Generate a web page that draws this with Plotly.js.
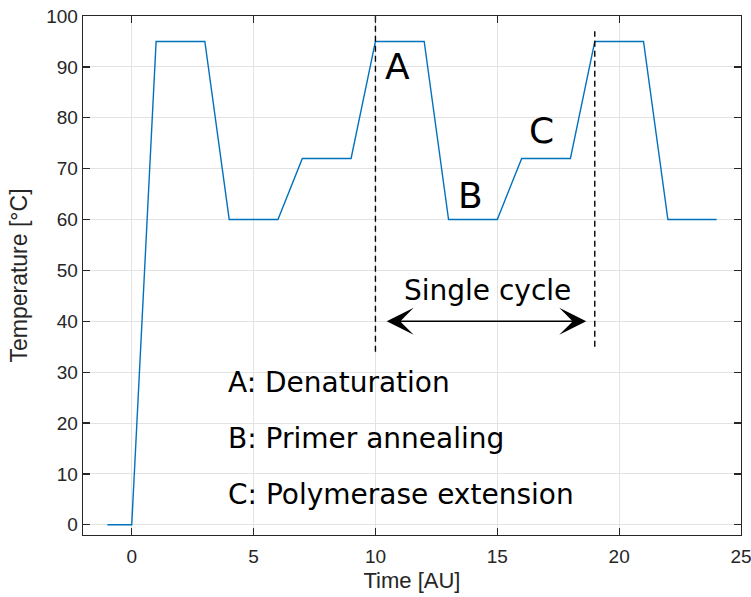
<!DOCTYPE html>
<html>
<head>
<meta charset="utf-8">
<script src="https://cdn.plot.ly/plotly-3.0.1.min.js"></script>
<style>html,body{margin:0;padding:0;background:#fff;}#chart{width:751px;height:597px;}</style>
</head>
<body>
<div id="chart"></div>
<script>
// Temperature profile (time in AU, temperature in °C)
const timeAU = [-1, 0, 1, 3, 4, 6, 7, 9, 10, 12, 13, 15, 16, 18, 19, 21, 22, 24];
const tempC  = [0, 0, 95, 95, 60, 60, 72, 72, 95, 95, 60, 60, 72, 72, 95, 95, 60, 60];

// Dashed cycle markers
const cycleStartX = [10, 10];
const cycleStartY = [34, 100];
const cycleEndX = [19, 19];
const cycleEndY = [35, 97];

// Double arrow for "Single cycle"
const arrowX = [10.4, 18.65];
const arrowY = 40;

// Phase letter labels
const phaseLetters = ['A', 'B', 'C'];
const phaseX = [10.9, 13.9, 16.8];
const phaseY = [90, 64.8, 77.5];

// Descriptions
const descTexts = ['A: Denaturation', 'B: Primer annealing', 'C: Polymerase extension'];
const descX = 3.85;
const descY = [28, 17, 6];

const cycleLabel = 'Single cycle';
const cycleLabelX = 14.6;
const cycleLabelY = 46;

const xTicks = [0, 5, 10, 15, 20, 25];
const yTicks = [0, 10, 20, 30, 40, 50, 60, 70, 80, 90, 100];

const axisColor = '#262626';
const textFont = 'DejaVu Sans, sans-serif';
const axisFont = 'Liberation Sans, Arial, sans-serif';

const traces = [
  {x: timeAU, y: tempC, mode: 'lines', line: {color: '#0072BD', width: 1.4}, hoverinfo: 'skip'},
  {x: cycleStartX, y: cycleStartY, mode: 'lines', line: {color: '#000', width: 1.4, dash: '6px,4px'}, hoverinfo: 'skip'},
  {x: cycleEndX, y: cycleEndY, mode: 'lines', line: {color: '#000', width: 1.4, dash: '6px,4px'}, hoverinfo: 'skip'}
];

const annotations = [];
annotations.push({
  x: arrowX[1], y: arrowY, ax: arrowX[0], ay: arrowY,
  xref: 'x', yref: 'y', axref: 'x', ayref: 'y',
  text: '', showarrow: true, arrowhead: 3, arrowside: 'end+start',
  arrowsize: 3, arrowwidth: 1.5, arrowcolor: '#000', standoff: 0, startstandoff: 0
});
phaseLetters.forEach((t, i) => annotations.push({
  x: phaseX[i], y: phaseY[i], xref: 'x', yref: 'y', text: t, showarrow: false,
  font: {family: textFont, size: 36, color: '#000'}, xanchor: 'center', yanchor: 'middle'
}));
descTexts.forEach((t, i) => annotations.push({
  x: descX, y: descY[i], xref: 'x', yref: 'y', text: t, showarrow: false,
  font: {family: textFont, size: 28, color: '#000'}, xanchor: 'left', yanchor: 'middle'
}));
annotations.push({
  x: cycleLabelX, y: cycleLabelY, xref: 'x', yref: 'y', text: cycleLabel, showarrow: false,
  font: {family: textFont, size: 28, color: '#000'}, xanchor: 'center', yanchor: 'middle'
});

const axisCommon = {
  showline: true, linecolor: axisColor, linewidth: 1.3, mirror: 'ticks',
  ticks: 'inside', ticklen: 7, tickwidth: 1.3, tickcolor: axisColor,
  showgrid: true, gridcolor: '#E3E3E3', gridwidth: 1, zeroline: false,
  ticklabeloverflow: 'allow',
  tickfont: {family: axisFont, size: 19, color: axisColor}
};

const layout = {
  width: 751, height: 597,
  margin: {l: 83, r: 10, t: 16, b: 62},
  paper_bgcolor: '#fff', plot_bgcolor: '#fff',
  showlegend: false,
  xaxis: Object.assign({}, axisCommon, {
    range: [-2, 25], tickvals: xTicks,
    ticklabelstandoff: 4,
    title: {text: 'Time [AU]', font: {family: axisFont, size: 22, color: axisColor}, standoff: 6}
  }),
  yaxis: Object.assign({}, axisCommon, {
    range: [-2, 100], tickvals: yTicks,
    title: {text: 'Temperature [°C]', font: {family: axisFont, size: 23, color: axisColor}, standoff: 12}
  }),
  annotations: annotations
};

Plotly.newPlot('chart', traces, layout, {displayModeBar: false, staticPlot: true});
</script>
</body>
</html>
